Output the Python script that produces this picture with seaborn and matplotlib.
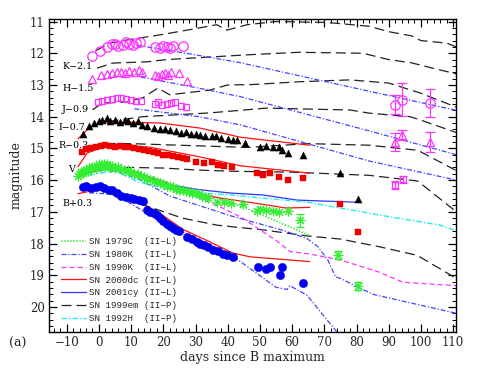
import matplotlib
matplotlib.use("Agg")
import matplotlib.pyplot as plt
import seaborn as sns
from matplotlib.ticker import MultipleLocator
from matplotlib.lines import Line2D

# ---------------- observed photometry (offset-applied magnitudes) ----------------
K_days = [-2.2, 0.3, 2.5, 4, 5, 6, 7.5, 8.5, 9.5, 10.5, 11.5, 12.7, 17.5, 19, 20, 21, 22, 23, 26]
K_mags = [12.08, 11.92, 11.8, 11.72, 11.7, 11.78, 11.74, 11.65, 11.72, 11.75, 11.68, 11.65,
          11.8, 11.82, 11.78, 11.8, 11.82, 11.78, 11.78]
K_late_days = [92, 94, 102.8]
K_late_mags = [13.63, 13.47, 13.57]
K_late_err = [0.3, 0.52, 0.45]

H_days = [-2, 0.8, 2.5, 4, 5.5, 7, 8, 9.5, 11, 12.5, 13.5, 17.5, 18.5, 19.5, 20.5, 21.5, 22.5, 25, 27.5]
H_mags = [12.82, 12.68, 12.65, 12.62, 12.6, 12.58, 12.62, 12.55, 12.6, 12.52, 12.6, 12.7,
          12.72, 12.65, 12.62, 12.7, 12.6, 12.62, 12.88]
H_late_days = [92, 94, 102.8]
H_late_mags = [14.8, 14.58, 14.8]
H_late_err = [0.27, 0.16, 0.32]

J_days = [-0.3, 1, 2.5, 4, 5.5, 7, 8.5, 10, 11.5, 13, 17.5, 18.5, 19.5, 21, 22.5, 23.5, 25.5, 27]
J_mags = [13.55, 13.5, 13.48, 13.45, 13.42, 13.4, 13.45, 13.48, 13.5, 13.52, 13.6, 13.55,
          13.62, 13.6, 13.58, 13.55, 13.65, 13.7]
J_late_days = [92, 94.5]
J_late_mags = [16.15, 15.98]
J_late_err = [0.12, 0.12]

I_days = [-5, -3, -1.5, 0, 1, 2.5, 3.5, 5, 6.5, 8, 9, 10.5, 12, 13.5, 15, 17, 19, 20.5, 22, 24,
          25.5, 27, 28.5, 30, 31.5, 33, 35, 36.5, 38, 40, 41.5, 43, 45.3, 50, 52, 54, 56, 57,
          58.7, 63.4, 75, 80.5]
I_mags = [14.55, 14.3, 14.2, 14.15, 14.12, 14.05, 14.15, 14.12, 14.18, 14.1, 14.15, 14.2, 14.15,
          14.25, 14.3, 14.35, 14.38, 14.4, 14.42, 14.45, 14.5, 14.48, 14.55, 14.55, 14.58, 14.6,
          14.62, 14.6, 14.68, 14.7, 14.72, 14.75, 14.84, 14.95, 14.92, 14.95, 14.95, 15.05,
          15.16, 15.2, 15.78, 16.6]

R_days = [-5.3, -4, -2.5, -1, 0.5, 2, 3.5, 5, 6.5, 8, 9.5, 11, 12.5, 14, 15.5, 17, 18.5, 20,
          21.5, 23, 24.5, 26, 27.5, 30, 32.5, 35, 37, 39, 41.3, 49, 51, 53, 56, 58.7, 63.4, 75, 80.5]
R_mags = [15.1, 15.02, 15.0, 14.97, 14.92, 14.9, 14.92, 14.95, 14.93, 14.97, 14.95, 15.0, 15.02,
          15.05, 15.08, 15.12, 15.15, 15.2, 15.22, 15.25, 15.28, 15.3, 15.35, 15.43, 15.47,
          15.43, 15.52, 15.55, 15.6, 15.78, 15.85, 15.79, 15.9, 16.0, 15.92, 16.76, 17.65]

V_days = [-6.5, -6, -5.5, -5, -4.5, -4, -3.5, -3, -2.5, -2, -1.5, -1, -0.5, 0, 0.5, 1, 1.5, 2,
          2.5, 3, 3.5, 4, 5, 6, 7, 8, 9, 10, 11, 12, 13, 14, 15, 16, 17, 18, 19, 20, 21, 22, 23,
          24, 25, 26, 27, 28, 29, 30, 31, 32, 33, 34, 36.6, 39, 41, 44.7, 49, 50, 52, 54, 56,
          58.7, 62.4, 74.2, 80.4]
V_mags = [15.88, 15.8, 15.75, 15.78, 15.7, 15.68, 15.72, 15.62, 15.65, 15.6, 15.58, 15.62,
          15.55, 15.5, 15.58, 15.52, 15.48, 15.55, 15.5, 15.57, 15.6, 15.55, 15.62, 15.6, 15.66,
          15.7, 15.68, 15.75, 15.8, 15.82, 15.88, 15.9, 15.95, 15.98, 16.02, 16.05, 16.1, 16.12,
          16.18, 16.2, 16.22, 16.28, 16.3, 16.32, 16.35, 16.38, 16.4, 16.42, 16.45, 16.5, 16.52,
          16.55, 16.7, 16.7, 16.72, 16.74, 16.98, 16.9, 16.95, 16.98, 17.02, 16.97, 17.27,
          18.37, 19.35]
V_err_days = [62.4, 74.2, 80.4]
V_err_mags = [17.27, 18.37, 19.35]
V_err = [0.2, 0.13, 0.13]

B_days = [-5, -4, -2.5, -1, 0.3, 1.5, 3, 4, 5.5, 7, 8.5, 10, 11, 12.5, 13.7, 15, 16, 17, 18, 19,
          20, 21, 22, 23, 24, 25, 27.3, 29, 30.4, 31.5, 32.5, 34, 35.4, 37, 38.5, 39.8, 41.6,
          49.4, 51.9, 53, 56.8, 56.2, 63.4]
B_mags = [16.22, 16.2, 16.26, 16.22, 16.2, 16.25, 16.3, 16.3, 16.42, 16.5, 16.53, 16.55, 16.6,
          16.63, 16.65, 16.95, 17.0, 17.05, 17.1, 17.18, 17.3, 17.38, 17.45, 17.52, 17.58, 17.62,
          17.8, 17.85, 17.95, 18.0, 18.05, 18.1, 18.2, 18.25, 18.32, 18.37, 18.43, 18.75, 18.8,
          18.75, 18.75, 19.0, 19.26]

# ---------------- comparison templates ----------------
# SN 1999em (II-P), black dashed, one curve per band
em_K_days = [-1, 3.4, 8.7, 19, 28, 36.6, 39.8, 46, 55, 71, 84, 90, 97, 100, 108, 111]
em_K_mags = [11.92, 11.68, 11.58, 11.42, 11.26, 11.1, 11.27, 11.1, 11.0, 11.03, 11.15, 11.32,
             11.45, 11.6, 11.68, 11.8]
em_H_days = [-0.6, 4.3, 15, 21, 46, 62, 82, 90, 97, 104, 111]
em_H_mags = [12.47, 12.31, 12.27, 12.2, 12.05, 11.97, 12.0, 12.2, 12.3, 12.48, 12.65]
em_J_days = [-2, 1.2, 8.7, 13.7, 18.3, 22, 34.5, 40, 47, 62, 78, 90, 99.7, 111]
em_J_mags = [13.78, 13.57, 13.54, 13.4, 13.1, 13.31, 13.16, 13.0, 12.99, 12.9, 12.84, 12.94,
             13.25, 13.7]
em_I_days = [3, 13.7, 34.5, 52, 78, 84, 96.6, 99.7, 111]
em_I_mags = [14.15, 14.0, 13.88, 13.73, 13.79, 13.89, 14.0, 14.1, 14.5]
em_R_days = [-2.2, 1.2, 10, 25, 46, 65, 84, 99, 111]
em_R_mags = [15.0, 14.85, 14.85, 14.9, 14.97, 14.85, 14.9, 15.06, 15.7]
em_V_days = [3.4, 8.7, 20, 30, 40.7, 60, 84, 99, 111]
em_V_mags = [15.75, 15.6, 15.62, 15.68, 15.72, 15.75, 15.85, 16.03, 17.0]
em_B_days = [4, 8.7, 15.8, 26, 36.6, 46, 51, 64.6, 75, 87, 98.8, 111]
em_B_mags = [16.45, 16.63, 16.85, 17.2, 17.42, 17.52, 17.57, 17.76, 17.86, 18.1, 18.37, 19.1]

# SN 1980K (II-L), blue dash-dot
k80_K_days = [12, 30, 44, 84, 111]
k80_K_mags = [11.75, 12.05, 12.3, 13.2, 13.8]
k80_H_days = [13, 31, 44, 84, 111]
k80_H_mags = [12.75, 13.1, 13.37, 14.45, 15.2]
k80_J_days = [11, 31, 44, 84, 111]
k80_J_mags = [13.75, 14.0, 14.26, 15.4, 16.0]
k80_V_days = [-3, 3, 12, 22, 31, 40.7, 57, 64.6, 68, 71, 73.5, 75, 85, 111]
k80_V_mags = [15.75, 15.65, 15.95, 16.5, 16.8, 17.12, 17.58, 17.84, 18.1, 18.5, 19.05, 19.1,
              19.6, 20.2]
k80_B_days = [-3, 5, 20, 35, 43, 55, 58.4, 59.3, 64.6, 74, 76]
k80_B_mags = [16.4, 16.45, 17.35, 18.05, 18.5, 19.38, 19.45, 19.33, 19.63, 20.8, 21.2]

# SN 2000dc (II-L), red solid
dc_I_days = [-6.5, -2.8, 0.3, 6.5, 19, 31.4, 44, 65.5]
dc_I_mags = [14.7, 14.33, 14.2, 14.17, 14.2, 14.36, 14.65, 14.9]
dc_R_days = [-6.5, -3.7, 2.5, 15.8, 31.4, 44, 65.5]
dc_R_mags = [15.58, 15.15, 14.9, 14.96, 15.27, 15.55, 15.78]
dc_V_days = [-6.5, 0, 4, 10, 20, 28, 38, 50, 58, 65.5]
dc_V_mags = [15.9, 15.68, 15.6, 15.7, 16.05, 16.4, 16.57, 16.75, 16.88, 16.86]
dc_B_days = [-6.5, -2.8, 3.4, 10, 13.7, 19, 26, 34.5, 41.6, 47, 65.5]
dc_B_mags = [16.43, 16.35, 16.28, 16.55, 16.75, 17.05, 17.55, 17.95, 18.3, 18.42, 18.57]

# SN 1979C (II-L), green dotted (V)
c79_days = [-6, 0, 5, 15, 25, 35, 46, 56, 65.5]
c79_mags = [15.85, 15.6, 15.55, 15.9, 16.2, 16.5, 16.9, 17.33, 17.75]

# SN 1990K (II-L), magenta dashed (V)
k90_days = [-3, 5, 15, 25, 37.6, 44.7, 49, 55, 59.3, 65.5, 75, 87, 94.4, 111]
k90_mags = [15.75, 15.62, 15.95, 16.3, 16.84, 17.2, 17.5, 17.9, 18.25, 18.33, 18.52, 18.9,
            19.22, 19.33]

# SN 2001cy (II-L), blue solid (V)
cy_days = [-3, 0, 7, 14, 22, 31, 41, 51, 61.5, 80.5]
cy_mags = [15.75, 15.63, 15.65, 15.93, 16.15, 16.3, 16.41, 16.47, 16.63, 16.7]

# SN 1992H (II-P), cyan dash-dot (V)
h92_days = [-3, 5, 12, 20, 30, 41, 51, 65, 87, 106, 111]
h92_mags = [15.85, 15.7, 16.05, 16.25, 16.4, 16.47, 16.57, 16.7, 17.1, 17.42, 17.6]

band_labels = ["K\u22122.1", "H\u22121.5", "J\u22120.9", "I\u22120.7", "R\u22120.3", "V", "B+0.3"]
band_label_x = [-11.4, -11.4, -11.4, -12.4, -12.4, -9.6, -11.4]
band_label_y = [12.42, 13.12, 13.78, 14.33, 14.92, 15.68, 16.73]

legend_labels = ["SN 1979C  (II\u2212L)", "SN 1980K  (II\u2212L)", "SN 1990K  (II\u2212L)",
                 "SN 2000dc (II\u2212L)", "SN 2001cy (II\u2212L)", "SN 1999em (II\u2212P)",
                 "SN 1992H  (II\u2212P)"]

# ---------------- style ----------------
MAG = "#ff33ff"
BLUE_DD = "#4444ff"
GREEN = "#33ee33"
RED = "#ff1111"
CYAN = "#22eeee"
DBLUE = "#0000ee"

sns.set_theme(style="ticks")
plt.rcParams["font.family"] = ["DejaVu Serif"]
plt.rcParams["axes.linewidth"] = 1.0

fig = plt.figure(figsize=(4.85, 3.74), dpi=100)
ax = fig.add_axes([49 / 485, 1 - 332 / 374, 407 / 485, 313 / 374])

DASH_EM = [8, 4]
DASH_DOT = [4, 1.5, 1, 1.5]


def line(x, y, color, dashes=None, lw=0.9, z=2):
    sns.lineplot(x=x, y=y, ax=ax, color=color, lw=lw, estimator=None, sort=False, zorder=z,
                 legend=False)
    ln = ax.lines[-1]
    if dashes is not None:
        ln.set_dashes(dashes)
    return ln


# black dashed templates
for d, m in [(em_K_days, em_K_mags), (em_H_days, em_H_mags), (em_J_days, em_J_mags),
             (em_I_days, em_I_mags), (em_R_days, em_R_mags), (em_V_days, em_V_mags),
             (em_B_days, em_B_mags)]:
    line(d, m, "#222222", DASH_EM, lw=0.9)

# blue dash-dot templates
for d, m in [(k80_K_days, k80_K_mags), (k80_H_days, k80_H_mags), (k80_J_days, k80_J_mags),
             (k80_V_days, k80_V_mags), (k80_B_days, k80_B_mags)]:
    line(d, m, BLUE_DD, DASH_DOT, lw=0.9)

# red solid templates
for d, m in [(dc_I_days, dc_I_mags), (dc_R_days, dc_R_mags), (dc_V_days, dc_V_mags),
             (dc_B_days, dc_B_mags)]:
    line(d, m, RED, None, lw=0.9, z=4)

line(c79_days, c79_mags, GREEN, [1, 1], lw=1.1)
line(k90_days, k90_mags, MAG, [4, 2.5], lw=0.9)
line(cy_days, cy_mags, "#3333ff", None, lw=0.9)
line(h92_days, h92_mags, CYAN, DASH_DOT, lw=1.0)

# observed points
ax.plot(K_days, K_mags, ls="none", marker="o", ms=6.8, mfc="none", mec=MAG, mew=0.9, zorder=5)
ax.errorbar(K_late_days, K_late_mags, yerr=K_late_err, fmt="o", ms=6.8, mfc="none", mec=MAG,
            ecolor=MAG, elinewidth=0.9, capsize=3.5, mew=0.9, zorder=5)
ax.plot(H_days, H_mags, ls="none", marker="^", ms=6, mfc="none", mec=MAG, mew=0.9, zorder=5)
ax.errorbar(H_late_days, H_late_mags, yerr=H_late_err, fmt="^", ms=6, mfc="none", mec=MAG,
            ecolor=MAG, elinewidth=0.9, capsize=3.5, mew=0.9, zorder=5)
ax.plot(J_days, J_mags, ls="none", marker="s", ms=5, mfc="none", mec=MAG, mew=0.9, zorder=5)
ax.errorbar(J_late_days, J_late_mags, yerr=J_late_err, fmt="s", ms=5, mfc="none", mec=MAG,
            ecolor=MAG, elinewidth=0.9, capsize=3, mew=0.9, zorder=5)

sns.scatterplot(x=I_days, y=I_mags, ax=ax, marker="^", s=26, color="black", edgecolor="black",
                linewidth=0.3, zorder=5, legend=False)
sns.scatterplot(x=R_days, y=R_mags, ax=ax, marker="s", s=20, color="#ee0000", edgecolor="#ee0000",
                linewidth=0.3, zorder=5, legend=False)
sns.scatterplot(x=B_days, y=B_mags, ax=ax, marker="o", s=36, color=DBLUE, edgecolor=DBLUE,
                linewidth=0.3, zorder=5, legend=False)
ax.plot(V_days, V_mags, ls="none", marker=(8, 2, 0), ms=7, mec=GREEN, mew=0.8, zorder=5)
ax.errorbar(V_err_days, V_err_mags, yerr=V_err, fmt="none", ecolor=GREEN, elinewidth=0.8,
            capsize=3, zorder=5)

# band labels
for t, x, y in zip(band_labels, band_label_x, band_label_y):
    ax.text(x, y, t, fontsize=6.8, ha="left", va="center", color="black")

# legend
handles = [
    Line2D([0], [0], color=GREEN, lw=1.1, dashes=[1, 1]),
    Line2D([0], [0], color=BLUE_DD, lw=0.9, dashes=DASH_DOT),
    Line2D([0], [0], color=MAG, lw=0.9, dashes=[4, 2.5]),
    Line2D([0], [0], color=RED, lw=0.9),
    Line2D([0], [0], color="#3333ff", lw=0.9),
    Line2D([0], [0], color="#222222", lw=0.9, dashes=DASH_EM),
    Line2D([0], [0], color=CYAN, lw=1.0, dashes=DASH_DOT),
]
leg = ax.legend(handles, legend_labels, loc="upper left", bbox_to_anchor=(0.02, 0.315),
                frameon=False, handlelength=2.7, handletextpad=0.35, labelspacing=0.42,
                borderaxespad=0.0, prop={"family": ["Liberation Mono", "DejaVu Sans Mono"],
                                         "size": 6.6})

ax.set_xlim(-15.5, 110.9)
ax.set_ylim(20.79, 10.92)
ax.xaxis.set_major_locator(MultipleLocator(10))
ax.xaxis.set_minor_locator(MultipleLocator(2))
ax.yaxis.set_major_locator(MultipleLocator(1))
ax.yaxis.set_minor_locator(MultipleLocator(0.2))
ax.tick_params(which="both", direction="in", top=True, right=True, color="black")
ax.tick_params(which="major", length=6, width=0.9, labelsize=8.5, pad=3)
ax.tick_params(which="minor", length=3, width=0.7)
ax.set_xticklabels([f"{int(v)}".replace("-", "\u2212") for v in ax.get_xticks()])
ax.set_xlim(-15.5, 110.9)
for sp in ax.spines.values():
    sp.set_color("black")
    sp.set_linewidth(1.0)

ax.set_xlabel("days since B maximum", fontsize=9, labelpad=1)
ax.set_ylabel("magnitude", fontsize=9, labelpad=5)
fig.text(9 / 485, 1 - 343 / 374, "(a)", fontsize=9, ha="left", va="center")

fig.savefig("out.png", dpi=100)
